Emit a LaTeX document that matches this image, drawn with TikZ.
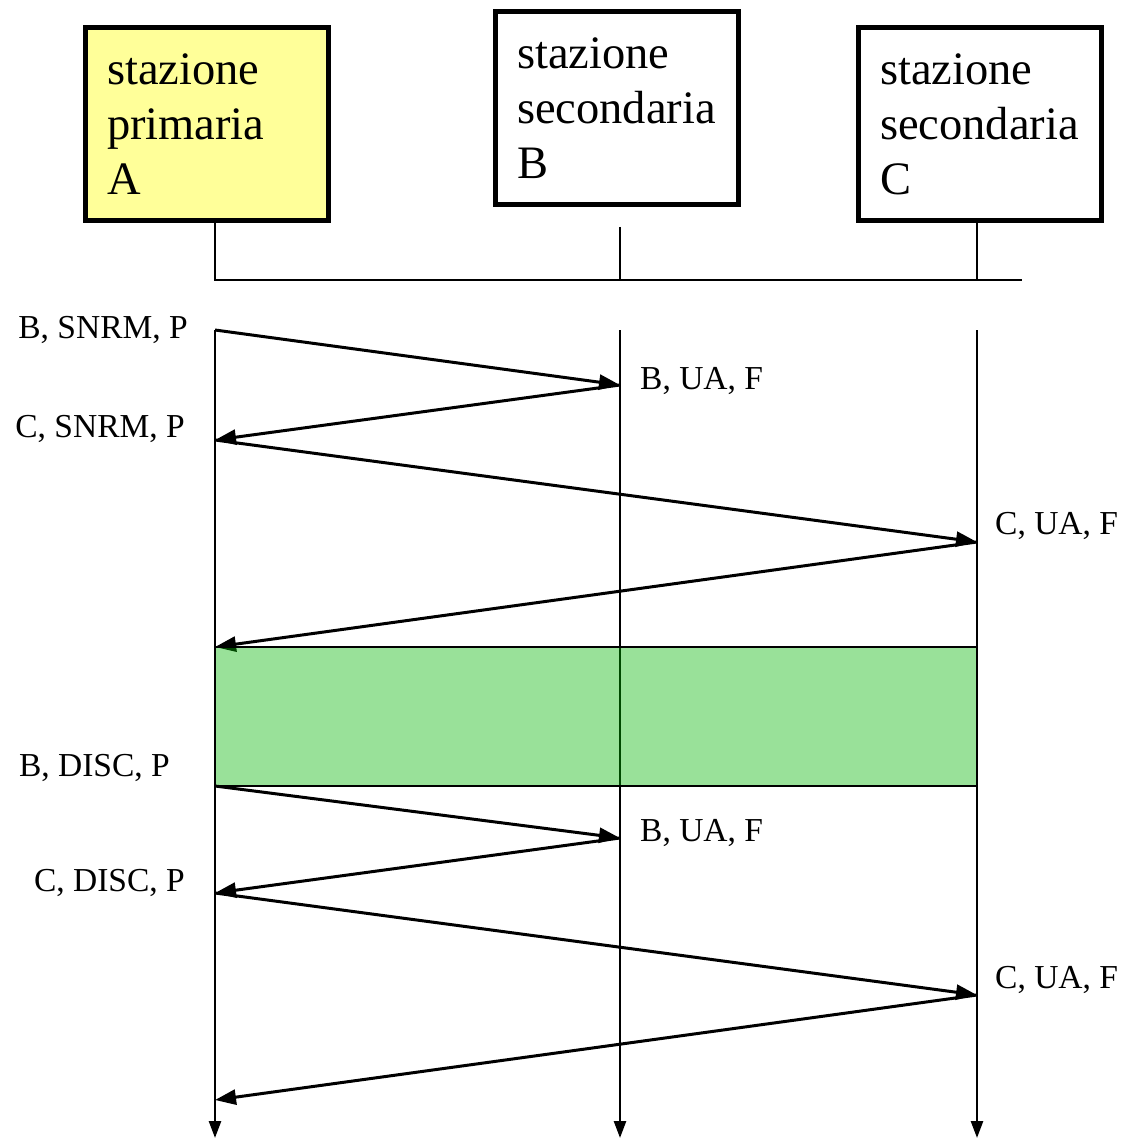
\documentclass[tikz,border=0pt]{standalone}
\usepackage{fontspec}
\setmainfont{Liberation Serif}
\usetikzlibrary{arrows.meta}
\definecolor{giallo}{RGB}{255,255,153}
\definecolor{verde}{RGB}{0,180,0}

\begin{document}
\begin{tikzpicture}[x=1pt, y=-1pt,
		stazione/.style={draw=black, line width=5.5pt, text width=200pt, inner xsep=21.5pt, minimum height=193pt, align=left, font=\fontsize{46.5}{55}\selectfont},
		vita/.style={line width=2.6pt, -{Triangle[length=17pt, width=12pt]}},
		msg/.style={line width=3pt, -{Triangle[length=21pt, width=15pt]}},
		etichetta/.style={inner sep=0pt, font=\fontsize{33.5}{40}\selectfont}]
		\useasboundingbox (0,0) rectangle (1120,1139);
		\def\xa{215}
		\def\xb{620}
		\def\xc{977}
		\def\ybus{280}
		\def\yt{330}
		\def\yf{1138}
		\node[stazione, fill=giallo] (A) at (207,124) {stazione\\primaria\\A};
		\node[stazione] (B) at (617,108) {stazione\\secondaria\\B};
		\node[stazione] (C) at (980,124) {stazione\\secondaria\\C};
		\coordinate (bA) at (\xa,\ybus);
		\coordinate (bB) at (\xb,\ybus);
		\coordinate (bC) at (\xc,\ybus);
		\coordinate (bE) at (1022,\ybus);
		\coordinate (sB) at (\xb,227);
		\draw[line width=2.6pt] (A.south -| bA) -- (bA) -- (bE);
		\draw[line width=2.6pt] (sB) -- (bB);
		\draw[line width=2.6pt] (C.south -| bC) -- (bC);
		\coordinate (tA) at (\xa,\yt);
		\coordinate (tB) at (\xb,\yt);
		\coordinate (tC) at (\xc,\yt);
		\coordinate (fA) at (\xa,\yf);
		\coordinate (fB) at (\xb,\yf);
		\coordinate (fC) at (\xc,\yf);
		\draw[vita] (tA) -- (fA);
		\draw[vita] (tB) -- (fB);
		\draw[vita] (tC) -- (fC);
		\coordinate (a1) at (\xa,330);
		\coordinate (b1) at (\xb,385);
		\coordinate (a2) at (\xa,440);
		\coordinate (c1) at (\xc,542);
		\coordinate (a3) at (\xa,647);
		\coordinate (c3) at (\xc,786);
		\coordinate (a4) at (\xa,786);
		\coordinate (b2) at (\xb,838);
		\coordinate (a5) at (\xa,893);
		\coordinate (c2) at (\xc,995);
		\coordinate (a6) at (\xa,1100);
		\draw[msg] (a1) -- (b1);
		\draw[msg] (b1) -- (a2);
		\draw[msg] (a2) -- (c1);
		\draw[msg] (c1) -- (a3);
		\draw[line width=2.6pt, fill=verde, fill opacity=0.4] (a3) rectangle (c3);
		\draw[msg] (a4) -- (b2);
		\draw[msg] (b2) -- (a5);
		\draw[msg] (a5) -- (c2);
		\draw[msg] (c2) -- (a6);
		\node[etichetta, anchor=base east] (l1) at (188,338) {B, SNRM, P};
		\node[etichetta, anchor=base west] (l2) at (640,389) {B, UA, F};
		\node[etichetta, anchor=base east] (l3) at (185,437) {C, SNRM, P};
		\node[etichetta, anchor=base west] (l4) at (995,534) {C, UA, F};
		\node[etichetta, anchor=base east] (l5) at (170,776) {B, DISC, P};
		\node[etichetta, anchor=base west] (l6) at (640,841) {B, UA, F};
		\node[etichetta, anchor=base east] (l7) at (185,891) {C, DISC, P};
		\node[etichetta, anchor=base west] (l8) at (995,988) {C, UA, F};
	\end{tikzpicture}
\end{document}
